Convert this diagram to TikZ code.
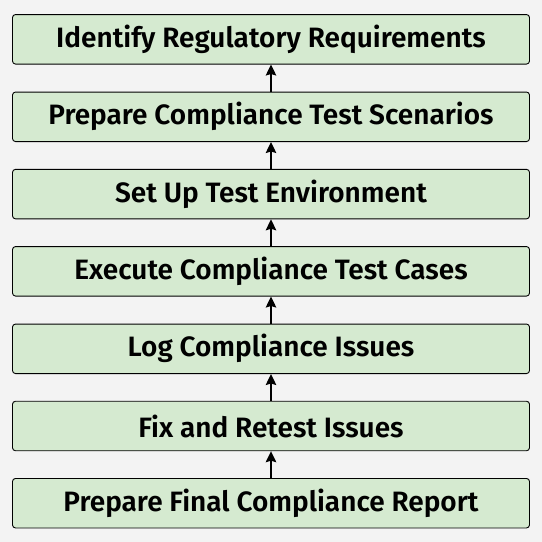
\documentclass[tikz,border=0pt]{standalone}
\usepackage{fontspec}
\setmainfont{Fira Sans}[BoldFont={Fira Sans SemiBold}]
\usetikzlibrary{arrows.meta}
\definecolor{bgc}{HTML}{F3F3F3}
\definecolor{boxfill}{HTML}{D5EAD0}
\tikzset{
  stepbox/.style={draw=black, fill=boxfill, rounded corners=3pt, line width=0.9pt,
    minimum width=517pt, minimum height=49.5pt, inner sep=0pt,
    font=\fontsize{28}{32}\selectfont\bfseries, text=black},
  flow/.style={-{Stealth[length=11pt,width=10.5pt,inset=1.5pt]}, line width=1.6pt, black}
}
\begin{document}
\begin{tikzpicture}[x=1pt,y=1pt]
\fill[bgc] (0,0) rectangle (542,-542);
\useasboundingbox (0,0) rectangle (542,-542);
\node[stepbox] (s1) at (271,-39.3) {Identify Regulatory Requirements};
\node[stepbox] (s2) at (271,-116.8) {Prepare Compliance Test Scenarios};
\node[stepbox] (s3) at (271,-194.1) {Set Up Test Environment};
\node[stepbox] (s4) at (271,-271.3) {Execute Compliance Test Cases};
\node[stepbox] (s5) at (271,-348.8) {Log Compliance Issues};
\node[stepbox] (s6) at (271,-426.0) {Fix and Retest Issues};
\node[stepbox] (s7) at (271,-503.2) {Prepare Final Compliance Report};
\draw[flow] (s2) -- (s1);
\draw[flow] (s3) -- (s2);
\draw[flow] (s4) -- (s3);
\draw[flow] (s5) -- (s4);
\draw[flow] (s6) -- (s5);
\draw[flow] (s7) -- (s6);
\end{tikzpicture}
\end{document}
